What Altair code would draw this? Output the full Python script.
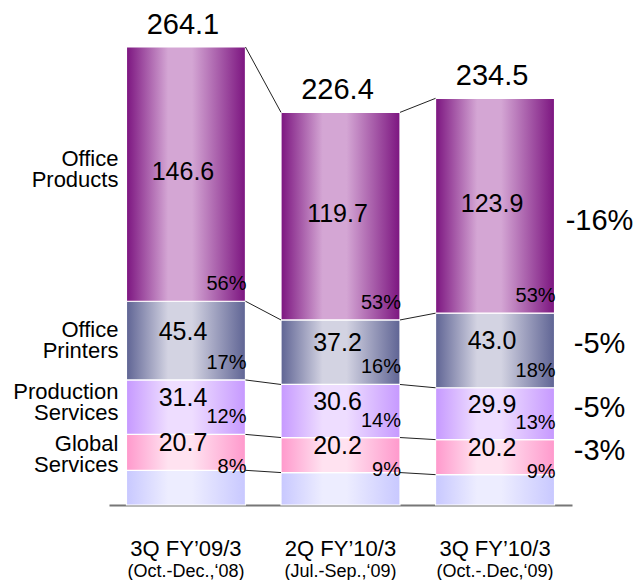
import altair as alt
import pandas as pd

# ---------------- data ----------------
periods = ["3Q FY\u201909/3", "2Q FY\u201910/3", "3Q FY\u201910/3"]
period_subs = ["(Oct.-Dec.,\u201808)", "(Jul.-Sep.,\u201809)", "(Oct.-.Dec,\u201809)"]

segments = ["Other", "Global Services", "Production Services", "Office Printers", "Office Products"]
segment_labels = ["", "Global\nServices", "Production\nServices", "Office\nPrinters", "Office\nProducts"]

other_values = [20.0, 18.7, 17.5]
global_values = [20.7, 20.2, 20.2]
production_values = [31.4, 30.6, 29.9]
printers_values = [45.4, 37.2, 43.0]
products_values = [146.6, 119.7, 123.9]

global_pct = [8, 9, 9]
production_pct = [12, 14, 13]
printers_pct = [17, 16, 18]
products_pct = [56, 53, 53]

totals = [264.1, 226.4, 234.5]
changes = ["", "-3%", "-5%", "-5%", "-16%"]

values = [other_values, global_values, production_values, printers_values, products_values]
pcts = [[None, None, None], global_pct, production_pct, printers_pct, products_pct]

rows = []
for si, seg in enumerate(segments):
    for pi, p in enumerate(periods):
        rows.append(dict(period=p, pidx=pi, seg=seg, order=si, value=values[si][pi],
                         pct=pcts[si][pi], label=segment_labels[si], change=changes[si]))
df = pd.DataFrame(rows)
tot_df = pd.DataFrame({"period": periods, "total": totals, "sub": period_subs})

# ---------------- styles ----------------
FONT = "Liberation Sans"
grad_colors = {
    "Other": ("#C8C8FF", "#EDEDFF"),
    "Global Services": ("#FF99CC", "#FFE2F0"),
    "Production Services": ("#C699FF", "#EEDDFF"),
    "Office Printers": ("#5F6494", "#D3D3E2"),
    "Office Products": ("#7C1580", "#D4A6D4"),
}


def grad(edge, light):
    return alt.Gradient(
        gradient="linear", x1=0, x2=1, y1=0, y2=0,
        stops=[
            alt.GradientStop(offset=0.0, color=edge),
            alt.GradientStop(offset=0.35, color=light),
            alt.GradientStop(offset=0.55, color=light),
            alt.GradientStop(offset=1.0, color=edge),
        ],
    )


xs = alt.Scale(type="band", domain=periods, paddingInner=0.23, paddingOuter=0.113)
ys = alt.Scale(domain=[0, max(totals)], nice=False, zero=True)
xaxis = alt.Axis(title=None, labelFontSize=22, labelFont=FONT, labelColor="black",
                 ticks=False, domainColor="#777777", domainWidth=2, labelPadding=33,
                 labelAngle=0, grid=False)


def X(bp=None):
    if bp is None:
        return alt.X("period:N", scale=xs, axis=xaxis)
    return alt.X("period:N", scale=xs, axis=xaxis, bandPosition=bp)


def Y(field):
    return alt.Y(field, scale=ys, axis=None)


base = (
    alt.Chart(df)
    .transform_stack(stack="value", groupby=["period"], as_=["y0", "y1"],
                     sort=[alt.SortField("order", order="ascending")])
    .transform_calculate(mid="(datum.y0 + datum.y1) / 2", pcttext="datum.pct + '%'")
)

layers = []
for seg in segments:
    edge, light = grad_colors[seg]
    layers.append(
        base.transform_filter(alt.datum.seg == seg)
        .mark_bar(fill=grad(edge, light), stroke="white", strokeWidth=1.2)
        .encode(x=X(), y=Y("y0:Q"), y2="y1:Q")
    )

# connectors
layers.append(
    base.transform_window(next_y="lead(y1)", next_period="lead(period)",
                          groupby=["seg"], sort=[alt.SortField("pidx")])
    .transform_filter("datum.next_y != null")
    .mark_rule(color="#222222", strokeWidth=1)
    .encode(x=X(1), x2=alt.X2("next_period", bandPosition=0), y=Y("y1:Q"), y2="next_y:Q")
)

labeled = base.transform_filter(alt.datum.seg != "Other")
prod = alt.datum.seg == "Office Products"
glob = alt.datum.seg == "Global Services"
prnt = alt.datum.seg == "Office Printers"

# values inside
layers.append(labeled.transform_filter(prod).mark_text(font=FONT, fontSize=25, dx=-3, dy=-2, color="black")
              .encode(x=X(), y=Y("mid:Q"), text=alt.Text("value:Q", format=".1f")))
layers.append(labeled.transform_filter(~prod).mark_text(font=FONT, fontSize=25, dx=-3, dy=-9, color="black")
              .encode(x=X(), y=Y("mid:Q"), text=alt.Text("value:Q", format=".1f")))
# percentages
layers.append(labeled.transform_filter(~glob).mark_text(font=FONT, fontSize=20, align="right", dx=1, dy=-17, color="black")
              .encode(x=X(1), y=Y("y0:Q"), text="pcttext:N"))
layers.append(labeled.transform_filter(glob).mark_text(font=FONT, fontSize=20, align="right", dx=1, dy=-3, color="black")
              .encode(x=X(1), y=Y("y0:Q"), text="pcttext:N"))
# left category labels
first = labeled.transform_filter(alt.datum.pidx == 0)
for cond, dyv in [(prod, -15), (alt.datum.seg == "Production Services", -15), (prnt, -11), (glob, -8)]:
    layers.append(first.transform_filter(cond)
                  .mark_text(font=FONT, fontSize=22, align="right", dx=-8, dy=dyv, lineBreak="\n",
                             lineHeight=21, color="black")
                  .encode(x=X(0), y=Y("mid:Q"), text="label:N"))
# right change labels
layers.append(labeled.transform_filter((alt.datum.pidx == 2) & prod)
              .mark_text(font=FONT, fontSize=29, align="center", dx=45, dy=15, color="black")
              .encode(x=X(1), y=Y("mid:Q"), text="change:N"))
layers.append(labeled.transform_filter((alt.datum.pidx == 2) & ~prod)
              .mark_text(font=FONT, fontSize=29, align="center", dx=45, dy=-6, color="black")
              .encode(x=X(1), y=Y("mid:Q"), text="change:N"))

# totals and sub labels
tot = alt.Chart(tot_df)
layers.append(tot.mark_text(font=FONT, fontSize=29, dx=-3, dy=-22, color="black")
              .encode(x=X(), y=Y("total:Q"), text=alt.Text("total:Q", format=".1f")))
layers.append(tot.mark_text(font=FONT, fontSize=18, color="black")
              .encode(x=X(), y=alt.value(525), text="sub:N"))

chart = (
    alt.layer(*layers)
    .properties(width=463, height=458,
                autosize=alt.AutoSizeParams(type="none"),
                padding={"left": 101, "top": 39, "right": 62, "bottom": 75},
                background="white")
    .configure_view(stroke=None)
)

chart.save("out.html", embed_options={"renderer": "svg", "actions": False})
